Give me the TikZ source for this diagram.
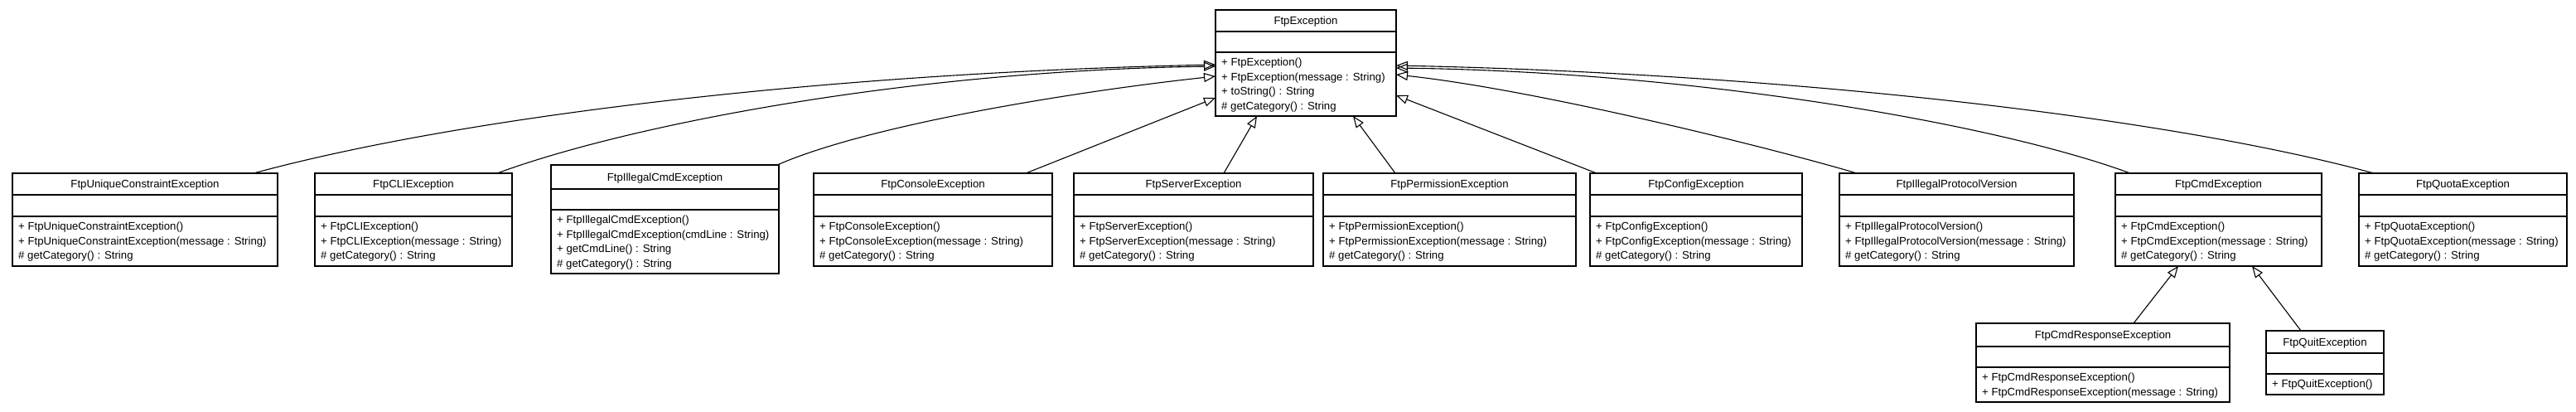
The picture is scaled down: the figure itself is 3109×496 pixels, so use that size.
\documentclass[tikz,border=0pt]{standalone}
\usepackage{fontspec}
\setmainfont{Liberation Sans}
\usetikzlibrary{arrows.meta}
\tikzset{
  classbox/.style={draw, line width=1.2pt, inner sep=0pt, outer sep=0pt, anchor=north west},
  sepline/.style={line width=1.4pt},
  titletext/.style={font=\fontsize{13.2}{17.7}\selectfont, anchor=base, inner sep=0pt},
  methtext/.style={font=\fontsize{13.2}{17.7}\selectfont, anchor=base west, inner sep=0pt},
  inherit/.style={line width=1.1pt, -{Triangle[open, length=14pt, width=11pt, line width=1.1pt]}},
}
% name, x1, y1, x2, y2, y header line, y attribute line, title
\newcommand\umlclass[8]{%
  \node[classbox, minimum width={(#4-#2)*1pt}, minimum height={(#5-#3)*1pt}] (#1) at (#2,#3) {};
  \draw[sepline] (#2,#6) -- (#4,#6);
  \draw[sepline] (#2,#7) -- (#4,#7);
  \node[titletext] (#1-title) at ({(#2+#4)/2},{(#3+#6)/2+4.5}) {#8};
}
% name, x1, y attribute line, list of methods
\newcommand\umlmeth[4]{%
  \foreach \m [count=\i from 0] in {#4} {%
    \node[methtext] (#1-m\i) at ({#2+7},{#3+16.3+17.7*\i}) {\m};
  }%
}
\begin{document}
\begin{tikzpicture}[x=1pt, y=-1pt]
\useasboundingbox (0,0) rectangle (3109,496);
\fill[white] (0,0) rectangle (3109,496);

% parent
\umlclass{exc}{1467}{12}{1685}{140}{38}{63}{FtpException}
\umlmeth{exc}{1467}{63}{+ FtpException(), + FtpException(message : String), + toString() : String, \# getCategory() : String}

% first row
\umlclass{uniq}{15}{209}{335}{321}{235}{261}{FtpUniqueConstraintException}
\umlmeth{uniq}{15}{261}{+ FtpUniqueConstraintException(), + FtpUniqueConstraintException(message : String), \# getCategory() : String}

\umlclass{cli}{380}{209}{618}{321}{235}{261}{FtpCLIException}
\umlmeth{cli}{380}{261}{+ FtpCLIException(), + FtpCLIException(message : String), \# getCategory() : String}

\umlclass{illegal}{665}{199}{940}{330}{228}{253}{FtpIllegalCmdException}
\umlmeth{illegal}{665}{253}{+ FtpIllegalCmdException(), + FtpIllegalCmdException(cmdLine : String), + getCmdLine() : String, \# getCategory() : String}

\umlclass{console}{982}{209}{1270}{321}{235}{261}{FtpConsoleException}
\umlmeth{console}{982}{261}{+ FtpConsoleException(), + FtpConsoleException(message : String), \# getCategory() : String}

\umlclass{server}{1296}{209}{1585}{321}{235}{261}{FtpServerException}
\umlmeth{server}{1296}{261}{+ FtpServerException(), + FtpServerException(message : String), \# getCategory() : String}

\umlclass{perm}{1597}{209}{1902}{321}{235}{261}{FtpPermissionException}
\umlmeth{perm}{1597}{261}{+ FtpPermissionException(), + FtpPermissionException(message : String), \# getCategory() : String}

\umlclass{config}{1919}{209}{2175}{321}{235}{261}{FtpConfigException}
\umlmeth{config}{1919}{261}{+ FtpConfigException(), + FtpConfigException(message : String), \# getCategory() : String}

\umlclass{proto}{2220}{209}{2503}{321}{235}{261}{FtpIllegalProtocolVersion}
\umlmeth{proto}{2220}{261}{+ FtpIllegalProtocolVersion(), + FtpIllegalProtocolVersion(message : String), \# getCategory() : String}

\umlclass{cmd}{2553}{209}{2802}{321}{235}{261}{FtpCmdException}
\umlmeth{cmd}{2553}{261}{+ FtpCmdException(), + FtpCmdException(message : String), \# getCategory() : String}

\umlclass{quota}{2847}{209}{3098}{321}{235}{261}{FtpQuotaException}
\umlmeth{quota}{2847}{261}{+ FtpQuotaException(), + FtpQuotaException(message : String), \# getCategory() : String}

% second row
\umlclass{resp}{2385}{390}{2691}{485}{418}{443}{FtpCmdResponseException}
\umlmeth{resp}{2385}{443}{+ FtpCmdResponseException(), + FtpCmdResponseException(message : String)}

\umlclass{quit}{2735}{399}{2877}{476}{426}{451}{FtpQuitException}
\umlmeth{quit}{2735}{451}{+ FtpQuitException()}

% inheritance connectors
\draw[inherit] ([xshift=-29pt]uniq.north east) .. controls (560,140) and (1000,88) .. ([yshift=-66pt]exc.north west);
\draw[inherit] ([xshift=-18pt]cli.north east) .. controls (760,150) and (1100,85) .. ([yshift=-68pt]exc.north west);
\draw[inherit] ([xshift=-2pt]illegal.north east) .. controls (1050,150) and (1300,110) .. ([yshift=-80pt]exc.north west);
\draw[inherit] ([xshift=-32pt]console.north east) -- ([yshift=-106pt]exc.north west);
\draw[inherit] ([xshift=181pt]server.north west) -- ([xshift=50pt]exc.south west);
\draw[inherit] ([xshift=87pt]perm.north west) -- ([xshift=166pt]exc.south west);
\draw[inherit] ([xshift=8pt]config.north west) -- ([yshift=-103pt]exc.north east);
\draw[inherit] ([xshift=21pt]proto.north west) .. controls (2129,176) and (1852,108) .. ([yshift=-78pt]exc.north east);
\draw[inherit] ([xshift=18pt]cmd.north west) .. controls (2411,150) and (2052,87) .. ([yshift=-70pt]exc.north east);
\draw[inherit] ([xshift=18pt]quota.north west) .. controls (2611,140) and (2152,89) .. ([yshift=-67pt]exc.north east);
\draw[inherit] ([xshift=190pt]resp.north west) -- ([xshift=76pt]cmd.south west);
\draw[inherit] ([xshift=42pt]quit.north west) -- ([xshift=165pt]cmd.south west);
\end{tikzpicture}
\end{document}
